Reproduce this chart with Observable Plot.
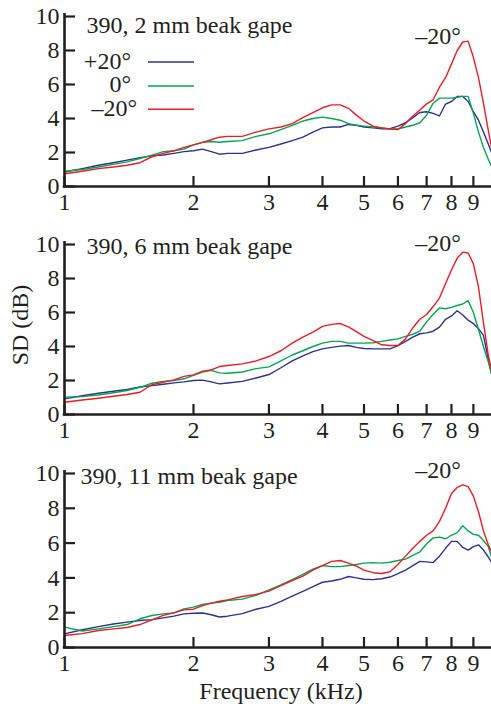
<!DOCTYPE html>
<html><head><meta charset="utf-8">
<script src="https://cdn.jsdelivr.net/npm/d3@7"></script>
<script src="https://cdn.jsdelivr.net/npm/@observablehq/plot@0.6"></script>
<style>
body{margin:0;background:#fff;}
#chart{position:relative;width:491px;height:704px;font-family:'Liberation Serif',serif;}
#chart svg{position:absolute;left:0;}
</style></head><body><div id="chart"></div>
<script>
// ---- data ----
const freq = [1.0,1.1,1.2,1.3,1.4,1.5,1.6,1.7,1.8,1.9,2.0,2.1,2.2,2.3,2.4,2.6,2.8,3.0,3.2,3.4,3.6,3.8,4.0,4.2,4.4,4.6,4.8,5.0,5.25,5.5,5.75,6.0,6.25,6.5,6.75,7.0,7.25,7.5,7.75,8.0,8.25,8.5,8.75,9.0,9.25,9.5,9.75,9.92];
const series = ["+20°", "0°", "–20°"];
const seriesColors = ["#2e3192", "#00a651", "#ed1c24"];

const gape2_plus20 = [0.85,1.05,1.25,1.4,1.55,1.7,1.8,1.85,1.95,2.05,2.1,2.2,2.05,1.9,1.95,1.95,2.15,2.3,2.5,2.7,2.9,3.2,3.45,3.5,3.5,3.65,3.6,3.5,3.45,3.4,3.4,3.55,3.75,4.05,4.35,4.4,4.3,4.15,4.85,5.0,5.3,5.3,5.0,4.4,3.9,3.2,2.5,2.0];
const gape2_zero   = [0.9,1.0,1.15,1.3,1.45,1.65,1.85,2.05,2.1,2.2,2.45,2.6,2.65,2.6,2.65,2.7,2.95,3.1,3.35,3.6,3.85,4.0,4.08,4.0,3.9,3.7,3.6,3.55,3.5,3.45,3.38,3.38,3.5,3.6,3.75,4.2,4.9,5.2,5.2,5.2,5.25,5.3,5.3,4.3,3.2,2.3,1.6,1.2];
const gape2_minus20= [0.75,0.9,1.05,1.15,1.25,1.4,1.75,1.95,2.1,2.3,2.45,2.6,2.75,2.9,2.95,2.95,3.2,3.39,3.5,3.7,4.05,4.35,4.63,4.8,4.8,4.6,4.2,3.85,3.55,3.45,3.38,3.35,3.7,4.15,4.5,4.86,5.1,5.84,6.4,7.2,8.0,8.5,8.55,7.6,6.4,4.9,3.3,2.3];

const gape6_plus20 = [0.92,1.1,1.25,1.37,1.47,1.62,1.7,1.78,1.86,1.92,2.0,2.02,1.92,1.8,1.85,1.95,2.15,2.35,2.75,3.15,3.45,3.7,3.86,3.95,4.02,4.06,3.95,3.88,3.86,3.86,3.86,4.05,4.3,4.55,4.75,4.8,4.9,5.14,5.6,5.8,6.1,5.85,5.55,5.35,5.05,4.65,3.25,2.4];
const gape6_zero   = [1.02,1.05,1.15,1.28,1.41,1.6,1.84,1.95,2.0,2.1,2.3,2.49,2.6,2.45,2.43,2.5,2.7,2.8,3.15,3.5,3.75,4.0,4.2,4.3,4.3,4.2,4.2,4.2,4.22,4.3,4.38,4.45,4.6,4.72,4.9,5.45,5.9,6.27,6.22,6.3,6.41,6.5,6.7,6.0,5.0,4.0,3.1,2.4];
const gape6_minus20= [0.72,0.85,0.96,1.07,1.18,1.31,1.75,1.9,2.04,2.24,2.33,2.55,2.62,2.82,2.88,2.98,3.15,3.41,3.75,4.2,4.55,4.85,5.18,5.3,5.35,5.15,4.88,4.6,4.35,4.1,4.06,4.06,4.45,5.1,5.6,5.88,6.35,6.85,7.7,8.5,9.2,9.55,9.5,8.86,7.5,5.4,3.5,2.6];

const gape11_plus20 = [0.78,1.02,1.2,1.35,1.46,1.55,1.6,1.7,1.8,1.93,1.97,1.98,1.88,1.75,1.8,1.95,2.2,2.36,2.65,2.95,3.22,3.5,3.75,3.82,3.92,4.08,4.0,3.92,3.9,3.95,4.05,4.24,4.45,4.7,4.95,4.92,4.88,5.25,5.7,6.1,6.1,5.75,5.6,5.8,5.9,5.6,5.2,4.9];
const gape11_zero   = [1.17,0.95,1.07,1.2,1.32,1.65,1.84,1.93,1.99,2.22,2.32,2.47,2.55,2.6,2.7,2.78,3.0,3.31,3.6,3.9,4.2,4.5,4.71,4.65,4.65,4.71,4.77,4.85,4.88,4.85,4.9,5.0,5.08,5.3,5.5,5.95,6.3,6.34,6.25,6.45,6.6,7.0,6.7,6.5,6.45,6.15,5.8,5.2];
const gape11_minus20= [0.69,0.8,0.98,1.07,1.15,1.32,1.59,1.85,1.99,2.16,2.2,2.41,2.55,2.66,2.74,2.93,3.05,3.24,3.55,3.85,4.1,4.45,4.71,4.95,5.0,4.85,4.68,4.45,4.3,4.25,4.35,4.77,5.25,5.7,6.1,6.45,6.7,7.25,8.0,8.85,9.2,9.35,9.25,8.7,7.8,6.7,5.9,5.5];

const panelTitles = ["390, 2 mm beak gape", "390, 6 mm beak gape", "390, 11 mm beak gape"];
const xTicks = [1, 2, 3, 4, 5, 6, 7, 8, 9];
const yTicks = [0, 2, 4, 6, 8, 10];
const peakLabel = "–20°";
const xLabel = "Frequency (kHz)";
const yLabel = "SD (dB)";

// ---- layout ----
const ink = "#231f20";
const W = 491, ML = 64, MR = 0, MT = 16;
const FS = 24;
const FONT = "'Liberation Serif', serif";
const panels = [
  {title: panelTitles[0], values: [gape2_plus20, gape2_zero, gape2_minus20], top: 0, ph: 170, mb: 34, tdx: 22, tdy: -1, ady: 27},
  {title: panelTitles[1], values: [gape6_plus20, gape6_zero, gape6_minus20], top: 228, ph: 170, mb: 34, tdx: 22, tdy: -8, ady: 6},
  {title: panelTitles[2], values: [gape11_plus20, gape11_zero, gape11_minus20], top: 457, ph: 174, mb: 34, tdx: 16, tdy: -7, ady: 4}
];

const chart = document.getElementById("chart");

for (const p of panels) {
  const rows = [];
  series.forEach((s, k) => freq.forEach((f, i) => rows.push({f, v: p.values[k][i], s})));
  const pw = W - ML - MR;
  const svg = Plot.plot({
    width: W, height: MT + p.ph + p.mb,
    marginLeft: ML, marginRight: MR, marginTop: MT, marginBottom: p.mb,
    style: {fontFamily: FONT, fontSize: FS + "px", color: ink, background: "transparent", overflow: "visible"},
    x: {type: "log", domain: [1, 9.92]},
    y: {domain: [0, 10]},
    color: {domain: series, range: seriesColors},
    marks: [
      Plot.line(rows, {x: "f", y: "v", z: "s", stroke: "s", strokeWidth: 1.4}),
      Plot.tickX(xTicks, {x: d => d, insetTop: p.ph - 10, stroke: ink, strokeWidth: 2.2}),
      Plot.tickY(yTicks, {y: d => d, insetRight: pw - 11, stroke: ink, strokeWidth: 2.2}),
      Plot.ruleY([0], {stroke: ink, strokeWidth: 2.6, strokeLinecap: "square"}),
      Plot.ruleX([{x: 1, y1: 0, y2: 10.1}], {x: "x", y1: "y1", y2: "y2", stroke: ink, strokeWidth: 2.6, strokeLinecap: "square"}),
      Plot.axisX({ticks: xTicks, tickSize: 0, tickPadding: 6, tickFormat: d => String(d), fontSize: FS, label: null, fill: ink}),
      Plot.axisY({ticks: yTicks, tickSize: 0, tickPadding: 5, tickFormat: d => String(d), fontSize: FS, label: null, fill: ink}),
      Plot.text([p.title], {frameAnchor: "top-left", dx: p.tdx, dy: p.tdy, lineAnchor: "top", textAnchor: "start", fontSize: FS, fill: ink}),
      Plot.text([peakLabel], {frameAnchor: "top-left", dx: 373.5, dy: p.ady, lineAnchor: "bottom", textAnchor: "middle", fontSize: FS, fill: ink})
    ]
  });
  svg.style.top = p.top + "px";
  chart.appendChild(svg);
}

// overlay: axis titles and legend
const ov = d3.select(chart).append("svg")
  .attr("width", W).attr("height", 704)
  .style("top", "0px")
  .attr("font-family", FONT).attr("font-size", FS).attr("fill", ink);

ov.append("text").attr("transform", "translate(28,325) rotate(-90)")
  .attr("text-anchor", "middle").text(yLabel);
ov.append("text").attr("x", 281).attr("y", 698.5)
  .attr("text-anchor", "middle").text(xLabel);

const legendRows = [
  {y: 69.3, ly: 62, tx: 131},
  {y: 92, ly: 86, tx: 131},
  {y: 116, ly: 109.3, tx: 137}
];
series.forEach((s, k) => {
  const r = legendRows[k];
  ov.append("text").attr("x", r.tx).attr("y", r.y).attr("text-anchor", "end").text(s);
  ov.append("line").attr("x1", 148).attr("x2", 194).attr("y1", r.ly).attr("y2", r.ly)
    .attr("stroke", seriesColors[k]).attr("stroke-width", 1.4);
});
</script>
</body></html>
